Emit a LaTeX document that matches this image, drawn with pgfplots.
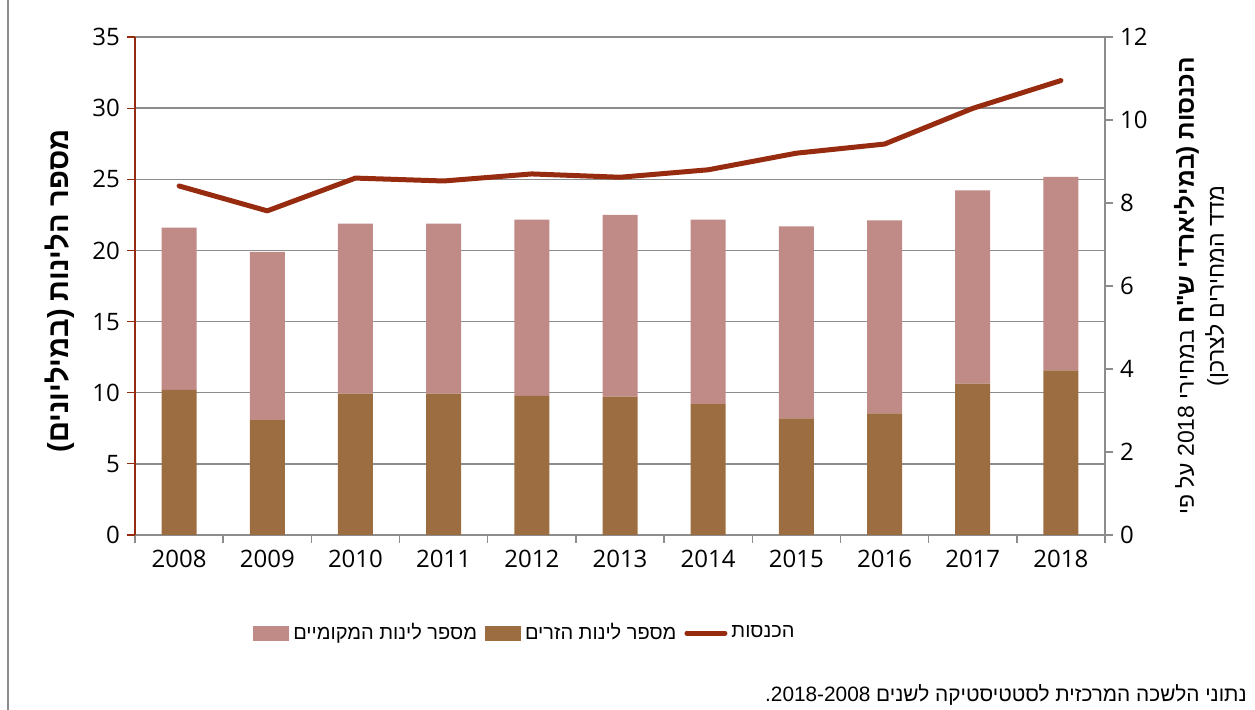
\documentclass[border=0pt]{standalone}
\usepackage{fontspec}
\setmainfont{Liberation Sans}
\newfontfamily\heb[Script=Hebrew]{Liberation Sans}
\newfontfamily\numfont{Open Sans}
\usepackage{pgfplots}
\pgfplotsset{compat=1.18}
\TeXXeTstate=1

\definecolor{locals}{HTML}{C08A86}
\definecolor{foreign}{HTML}{9C6D40}
\definecolor{revenue}{HTML}{962B10}
\definecolor{gridgray}{HTML}{8C8C8C}

% i  = year index (2008 = 0)
% foreign, locals = overnight stays (millions), revenue = NIS billions
\pgfplotstableread{
i  foreign locals revenue
0  10.19   11.41  8.41
1  8.08    11.82  7.81
2  9.93    11.95  8.60
3  9.93    11.95  8.53
4  9.77    12.39  8.70
5  9.72    12.77  8.62
6  9.20    12.96  8.80
7  8.20    13.49  9.20
8  8.55    13.56  9.42
9  10.63   13.59  10.28
10 11.57   13.59  10.95
}\data

\pgfplotsset{
  base/.style={
    at={(67.5pt,87.5pt)}, anchor=south west,
    scale only axis, width=485pt, height=249pt,
    xmin=-0.5, xmax=10.5,
    tick align=outside, major tick length=4pt,
    tick label style={font=\numfont\fontsize{12}{14}\selectfont},
    /pgf/number format/assume math mode=true,
  },
  boxleg/.style={legend image code/.code={%
    \fill[##1] (0pt,-3.75pt) rectangle (18pt,3.75pt);}},
}

\begin{document}
\begin{tikzpicture}
\path[use as bounding box] (0,0) rectangle (627.5pt,355pt);
\draw[gridgray, line width=1pt] (4pt,0) -- (4pt,355pt);

\begin{axis}[
  base,
  ymin=0, ymax=35, ytick={0,5,...,35},
  ybar stacked, bar width=17.5pt,
  axis x line*=bottom, axis y line*=left,
  x axis line style={draw=gridgray, line width=0.75pt},
  y axis line style={draw=revenue, line width=0.6pt},
  ytick style={draw=revenue, line width=0.6pt},
  xtick={-0.5,0.5,...,10.5},
  x tick label as interval,
  xticklabels={2008,2009,2010,2011,2012,2013,2014,2015,2016,2017,2018},
  xtick style={draw=gridgray, line width=0.75pt},
  ymajorgrids, grid style={draw=gridgray, line width=0.75pt},
  every axis y label/.style={at={(rel axis cs:-0.0773,0.49)}, rotate=90, anchor=center},
  ylabel={\heb\bfseries\fontsize{14.5}{16}\selectfont\beginR מספר הלינות (במיליונים)\endR},
  legend columns=3, reverse legend,
  legend style={draw=none, fill=none, at={(0.403,-0.197)}, anchor=center,
    font=\heb\fontsize{10}{12}\selectfont,
    nodes={inner xsep=2pt},
    /tikz/every odd column/.append style={column sep=0pt},
    /tikz/every even column/.append style={column sep=2pt}},
]
\addlegendimage{legend image code/.code={%
  \draw[draw=revenue, line width=2.5pt, line cap=round] (0pt,0pt) -- (19pt,0pt);}}
\addlegendentry{\beginR הכנסות\endR}
\addplot[fill=foreign, draw=none, boxleg] table[x=i, y=foreign]{\data};
\addlegendentry{\beginR מספר לינות הזרים\endR}
\addplot[fill=locals, draw=none, boxleg] table[x=i, y=locals]{\data};
\addlegendentry{\beginR מספר לינות המקומיים\endR}
\end{axis}

\begin{axis}[
  base,
  ymin=0, ymax=12, ytick={0,2,...,12},
  axis x line=none, axis y line*=right,
  y axis line style={draw=gridgray, line width=0.75pt},
  ytick style={draw=gridgray, line width=0.75pt},
  every axis y label/.style={at={(rel axis cs:1.101,0.5)}, rotate=90, anchor=center},
  ylabel={\heb\fontsize{11.5}{15}\selectfont
    \begin{tabular}{c}
    \beginR{\bfseries\fontsize{12.2}{15}\selectfont הכנסות (במיליארדי ש"ח} במחירי \beginL 2018\endL{} על פי\endR\\
    \beginR מדד המחירים לצרכן)\endR
    \end{tabular}},
]
\addplot[draw=revenue, line width=2.5pt, line join=round, line cap=round]
  table[x=i, y=revenue]{\data};
\end{axis}

\node[anchor=east, inner sep=0pt, font=\heb\fontsize{10.4}{13}\selectfont] at (623.5pt,7.5pt)
  {\beginR נתוני הלשכה המרכזית לסטטיסטיקה לשנים \beginL 2018-2008\endL.\endR};
\end{tikzpicture}
\end{document}
